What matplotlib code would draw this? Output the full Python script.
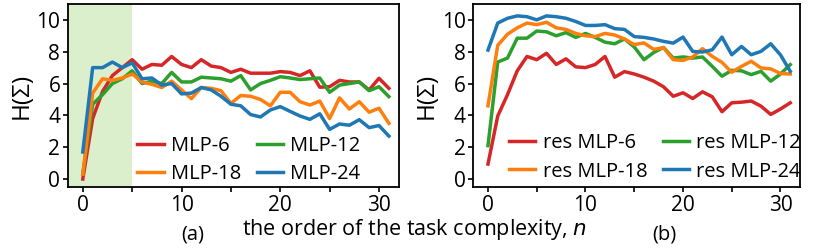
import matplotlib
matplotlib.use('Agg')
import matplotlib.pyplot as plt
import numpy as np

plt.rcParams['font.family'] = ['Open Sans', 'DejaVu Sans']

n = list(range(32))

mlp6 = [0.0, 3.8, 5.5, 6.5, 7.0, 7.5, 6.9, 7.2, 7.15, 7.7, 7.2, 7.0, 7.5, 7.1, 7.0, 6.7,
        6.9, 6.65, 6.65, 6.65, 6.75, 6.7, 6.5, 6.8, 5.77, 5.8, 6.2, 6.1, 6.1, 5.6, 6.33, 5.7]
mlp12 = [0.3, 4.7, 5.3, 6.0, 6.3, 6.8, 6.0, 6.15, 6.0, 6.7, 6.1, 6.1, 6.4, 6.35, 6.3, 6.15,
         6.5, 5.6, 6.0, 6.2, 6.43, 6.35, 6.25, 6.3, 6.35, 5.45, 5.9, 6.0, 6.1, 5.55, 5.8, 5.18]
mlp18 = [0.3, 5.4, 6.3, 6.2, 6.35, 6.6, 6.1, 5.95, 5.75, 6.15, 5.6, 5.05, 5.75, 5.7, 5.55, 4.75,
         5.25, 5.2, 5.0, 4.6, 5.45, 5.45, 4.86, 4.65, 4.9, 3.8, 5.1, 4.4, 4.86, 4.2, 4.45, 3.5]
mlp24 = [1.7, 7.0, 7.0, 7.35, 7.0, 7.3, 6.3, 6.35, 5.9, 6.0, 5.35, 5.4, 5.75, 5.6, 5.2, 4.7,
         4.6, 4.05, 3.9, 4.34, 4.55, 4.25, 3.96, 3.75, 4.1, 3.12, 3.46, 3.38, 3.73, 3.23, 3.36, 2.7]

res6 = [0.94, 3.96, 5.3, 6.8, 7.7, 7.5, 7.9, 7.2, 7.55, 7.05, 7.0, 7.2, 7.7, 6.4, 6.75, 6.6,
        6.4, 6.15, 5.8, 5.2, 5.42, 5.06, 5.48, 5.17, 4.23, 4.79, 4.83, 4.9, 4.58, 4.06, 4.4, 4.79]
res12 = [2.1, 7.35, 7.6, 8.85, 8.85, 9.3, 9.25, 9.0, 9.2, 8.9, 9.15, 8.9, 8.6, 8.5, 8.8, 8.3,
         7.5, 7.95, 8.27, 7.6, 7.67, 7.6, 7.67, 7.08, 6.46, 6.83, 6.8, 6.56, 6.77, 6.15, 6.6, 7.19]
res18 = [4.6, 8.4, 9.1, 9.5, 9.8, 9.7, 9.85, 9.5, 9.4, 9.15, 9.0, 8.95, 9.15, 9.05, 8.8, 8.45,
         8.55, 8.15, 8.25, 7.5, 7.45, 7.67, 8.19, 7.71, 7.33, 6.71, 7.08, 7.4, 6.98, 6.92, 6.63, 6.6]
res24 = [8.1, 9.8, 10.1, 10.25, 10.2, 10.0, 10.25, 10.2, 10.1, 9.9, 9.65, 9.65, 9.7, 9.45, 9.4, 8.95,
         8.9, 8.8, 8.65, 8.54, 8.92, 8.02, 7.98, 8.12, 8.92, 7.81, 8.33, 7.81, 8.02, 8.5, 7.8, 6.77]

colors = ['tab:red', 'tab:green', 'tab:orange', 'tab:blue']

fig = plt.figure(figsize=(8.29, 2.48), dpi=100)
ax1 = fig.add_axes([0.082, 0.246, 0.399, 0.738])
ax2 = fig.add_axes([0.571, 0.246, 0.394, 0.738])

ax1.axvspan(-1.5, 5, color='#dcefcc', zorder=0, lw=0)

panels = [
    (ax1, [mlp6, mlp12, mlp18, mlp24], ['MLP-6', 'MLP-12', 'MLP-18', 'MLP-24'], (0.21, 0.015)),
    (ax2, [res6, res12, res18, res24], ['res MLP-6', 'res MLP-12', 'res MLP-18', 'res MLP-24'], (0.11, 0.03)),
]
for ax, series, names, anchor in panels:
    lines = []
    for ys, c, lab in zip(series, colors, names):
        l, = ax.plot(n, ys, color=c, lw=2.5, label=lab)
        lines.append(l)
    ax.set_xlim(-1.5, 32)
    ax.set_ylim(-0.5, 11)
    ax.set_xticks([0, 10, 20, 30])
    ax.set_xticks([5, 15, 25], minor=True)
    ax.set_yticks([0, 2, 4, 6, 8, 10])
    ax.tick_params(which='both', labelsize=15, length=3.5, width=1.2, pad=2)
    for s in ax.spines.values():
        s.set_linewidth(1.3)
    ax.set_ylabel('H(\u03a3)', fontsize=17.5, labelpad=2)
    # legend filled row-wise: 6, 12 / 18, 24
    order = [0, 2, 1, 3]
    ax.legend([lines[i] for i in order], [names[i] for i in order],
              ncol=2, loc='lower left', bbox_to_anchor=anchor, frameon=False, fontsize=14.5,
              handlelength=1.3, handletextpad=0.35, columnspacing=0.8,
              labelspacing=0.4, borderaxespad=0.0, borderpad=0.0)

fig.text(0.5, 0.052, 'the order of the task complexity, $n$', ha='center', va='baseline', fontsize=15.5)
fig.text(0.232, 0.035, '(a)', ha='center', va='baseline', fontsize=14.5)
fig.text(0.801, 0.035, '(b)', ha='center', va='baseline', fontsize=14.5)

fig.savefig('out.png', dpi=100)
